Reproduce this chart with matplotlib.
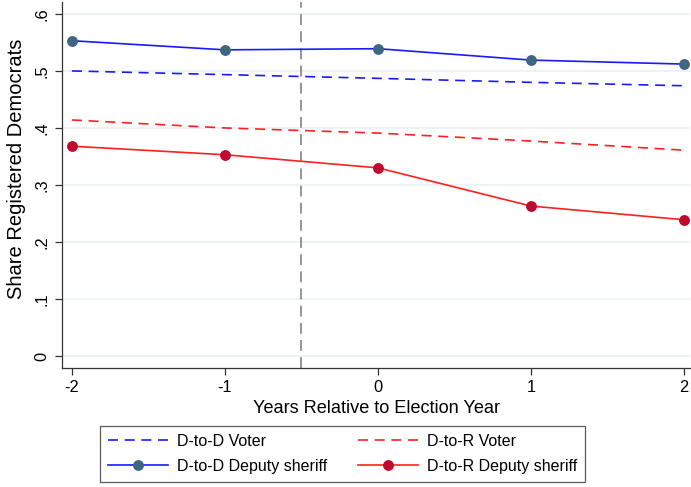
import matplotlib.pyplot as plt
from matplotlib.ticker import FixedLocator

plt.rcParams['font.family'] = ['Liberation Sans', 'DejaVu Sans']

years = [-2, -1, 0, 1, 2]
dd_voter = [0.500, 0.4935, 0.487, 0.480, 0.474]
dr_voter = [0.414, 0.400, 0.391, 0.377, 0.361]
dd_deputy = [0.553, 0.537, 0.539, 0.519, 0.512]
dr_deputy = [0.368, 0.353, 0.330, 0.263, 0.239]

y_ticks = [0, 0.1, 0.2, 0.3, 0.4, 0.5, 0.6]
y_labels = ['0', '.1', '.2', '.3', '.4', '.5', '.6']

fig = plt.figure(figsize=(6.91, 4.87), dpi=100)
ax = fig.add_axes([0.0897, 0.2444, 0.9090, 0.7516])

for y in y_ticks:
    ax.axhline(y, color='#eaf0f3', lw=1.2, zorder=0)
ax.axvline(-0.5, color='#8c8c8c', lw=1.3, ls=(0, (6, 3.5)), zorder=1)

ax.plot(years, dd_voter, color='#1a1aff', lw=1.2, ls=(0, (6, 4)), label='D-to-D Voter')
ax.plot(years, dd_deputy, color='#1a1aff', lw=1.2, marker='o', ms=6.8,
        mfc='#3e6683', mec='#3e6683', label='D-to-D Deputy sheriff')
ax.plot(years, dr_voter, color='#ff2020', lw=1.2, ls=(0, (6, 4)), label='D-to-R Voter')
ax.plot(years, dr_deputy, color='#ff2020', lw=1.2, marker='o', ms=6.8,
        mfc='#c0092e', mec='#c0092e', label='D-to-R Deputy sheriff')

ax.set_xlim(-2.065, 2.04)
ax.set_ylim(-0.021, 0.621)
ax.set_xticks(years)
ax.set_xticklabels(['-2', '-1', '0', '1', '2'], fontsize=11.8)
ax.yaxis.set_major_locator(FixedLocator(y_ticks))
ax.set_yticklabels(y_labels, fontsize=11.8, rotation=90, va='center')
ax.tick_params(direction='out', length=5, width=0.9, color='#333333', pad=4)
ax.spines['top'].set_visible(False)
ax.spines['right'].set_visible(False)
for s in ('left', 'bottom'):
    ax.spines[s].set_color('#333333')
    ax.spines[s].set_linewidth(0.9)

ax.set_xlabel('Years Relative to Election Year', fontsize=13.1, labelpad=3)
ax.set_ylabel('Share Registered Democrats', fontsize=14.5)
ax.yaxis.set_label_coords(-0.058, 0.545)

handles, labels = ax.get_legend_handles_labels()
leg = fig.legend(handles, labels,
                 loc='center', bbox_to_anchor=(0.4957, 0.0678), ncol=2,
                 fontsize=11.5, frameon=True, fancybox=False, edgecolor='#333333',
                 handlelength=3.75, handletextpad=0.6, columnspacing=1.9,
                 borderpad=0.5, labelspacing=0.62, borderaxespad=0)
leg.get_frame().set_linewidth(0.9)

fig.savefig('out.png', dpi=100)
